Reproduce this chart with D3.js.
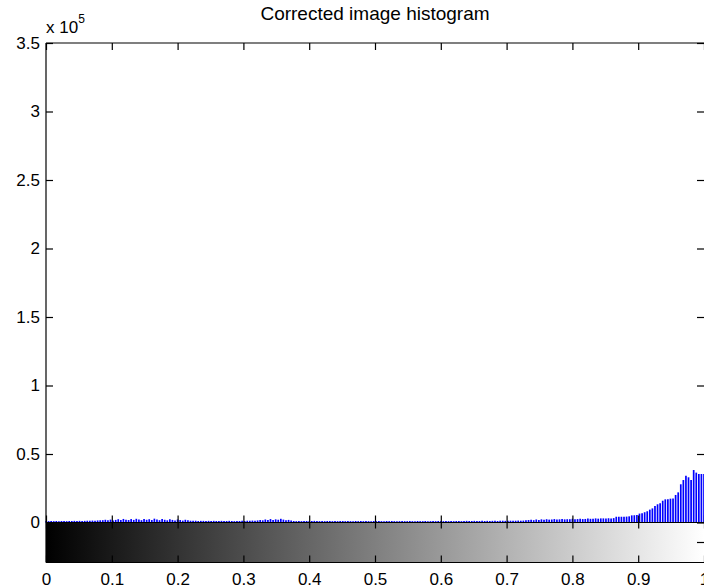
<!DOCTYPE html>
<html><head><meta charset="utf-8">
<script src="https://cdn.jsdelivr.net/npm/d3@7"></script>
<style>
html,body{margin:0;padding:0;background:#fff;overflow:hidden;}
svg{display:block;}
text{font-family:"Liberation Sans",Arial,Helvetica,sans-serif;fill:#000;}
</style></head>
<body>
<script>
// ---- data ----
const title = "Corrected image histogram";
const nBins = 256;
const counts = [
 // bins 0-21
 1000,1000,1100,1000,1100,1000,1100,1100,1000,1100,1100,1200,1100,1200,1100,1200,1300,1200,1400,1300,1500,1600,
 // bins 22-55
 1700,2000,1600,2100,1500,1900,2400,1800,2600,2000,1800,2500,1900,2700,2200,1700,2600,2000,2400,1800,2800,2100,1700,2500,2000,1600,2300,1900,1500,2200,1800,1400,2000,1700,
 // bins 56-82
 1300,1200,1300,1100,1200,1200,1100,1200,1100,1200,1100,1100,1200,1100,1100,1200,1100,1000,1100,1100,1200,1100,1300,1200,1400,1300,1500,
 // bins 83-95
 1800,1600,2200,1900,2500,1800,2300,2000,2700,2100,1700,1900,1500,
 // bins 96-185
 1100,1000,1100,1000,1100,1100,1000,1100,1200,1100,
 1000,1100,1000,1100,1100,1000,1100,1000,1100,1100,
 1000,1100,1000,1000,1100,1000,1100,1000,1100,1000,
 1000,1100,1000,1100,1000,1000,1100,1000,1100,1000,
 1000,1000,1100,1000,1000,1100,1000,1000,1100,1000,
 1000,1100,1000,1000,1100,1000,1100,1000,1000,1100,
 1000,1100,1000,1100,1100,1000,1100,1200,1100,1100,
 1200,1100,1100,1200,1100,1200,1100,1200,1200,1100,
 1200,1300,1200,1200,1300,1200,1300,1400,1300,1400,
 // bins 186-214
 1600,1800,2000,1700,2200,1900,2300,2000,2400,2100,2200,2500,2200,2300,2600,2300,2400,2400,2700,2400,2500,2800,2500,2600,2900,2700,2800,3000,2800,
 // bins 215-239
 3000,3000,3000,3100,3000,3200,4200,4200,4200,4200,4300,4500,5200,5300,5500,6500,6700,7500,8200,9400,10300,12000,13300,14000,15900,
 // bins 240-255
 16900,16900,17400,17600,20100,22000,27900,31000,34200,33000,31000,38300,36400,35400,35400,35400
];
const xTicks = [0,0.1,0.2,0.3,0.4,0.5,0.6,0.7,0.8,0.9,1];
const xTickLabels = ["0","0.1","0.2","0.3","0.4","0.5","0.6","0.7","0.8","0.9","1"];
const yTicks = [0,0.5,1,1.5,2,2.5,3,3.5];          // in units of 10^5
const yTickLabels = ["0","0.5","1","1.5","2","2.5","3","3.5"];
const yExponent = "5";
const yMax = 3.5;
const grayStops = [0,1];   // colorbar intensity range

// ---- layout ----
const W = 704, H = 588;
const L = 46, R = 704, T = 43, B = 522.5, CB = 562.5;
const TICK = 7;

const svg = d3.select("body").append("svg").attr("width", W).attr("height", H);

const x = d3.scaleLinear().domain([0,1]).range([L, R]);
const y = d3.scaleLinear().domain([0, yMax]).range([B, T]);

// colorbar gradient
const defs = svg.append("defs");
const grad = defs.append("linearGradient").attr("id","gray").attr("x1","0%").attr("x2","100%");
grad.selectAll("stop").data(grayStops).join("stop")
  .attr("offset", d => (d*100)+"%")
  .attr("stop-color", d => d3.rgb(255*d,255*d,255*d).formatHex());
svg.append("rect").attr("x", x(0)).attr("y", B).attr("width", x(1)-x(0)).attr("height", CB-B)
  .attr("fill","url(#gray)");

// stems
svg.append("g").selectAll("line").data(counts).join("line")
  .attr("x1", (d,i) => x(i/(nBins-1))).attr("x2", (d,i) => x(i/(nBins-1)))
  .attr("y1", y(0)).attr("y2", d => y(d/1e5))
  .attr("stroke", "#0000ff").attr("stroke-width", 1.7);

// axis frame
const frame = svg.append("g").attr("stroke","#000").attr("stroke-width",1.2).attr("fill","none");
frame.append("line").attr("x1",L).attr("x2",L).attr("y1",T).attr("y2",CB);
frame.append("line").attr("x1",L).attr("x2",W).attr("y1",T).attr("y2",T);
frame.append("line").attr("x1",L).attr("x2",W).attr("y1",B).attr("y2",B);
frame.append("line").attr("x1",L).attr("x2",W).attr("y1",CB).attr("y2",CB);

// y axis (left, ticks inward) and right ticks
const yAxis = d3.axisLeft(y).tickValues(yTicks).tickFormat((d,i)=>yTickLabels[i]).tickSizeInner(-TICK).tickSizeOuter(0).tickPadding(6);
const gy = svg.append("g").attr("transform",`translate(${L},0)`).call(yAxis);
gy.select(".domain").remove();
gy.selectAll(".tick line").attr("stroke","#000").attr("stroke-width",1.2);
gy.selectAll(".tick text").style("font-size","17px").style("font-family","'Liberation Sans',Arial,sans-serif");

const yAxisR = d3.axisRight(y).tickValues(yTicks).tickFormat("").tickSizeInner(-TICK).tickSizeOuter(0);
const gyr = svg.append("g").attr("transform",`translate(${R},0)`).call(yAxisR);
gyr.select(".domain").remove();
gyr.selectAll(".tick line").attr("stroke","#000").attr("stroke-width",1.2);

// top ticks
const xTop = d3.axisTop(x).tickValues(xTicks).tickFormat("").tickSizeInner(-TICK).tickSizeOuter(0);
const gxt = svg.append("g").attr("transform",`translate(0,${T})`).call(xTop);
gxt.select(".domain").remove();
gxt.selectAll(".tick line").attr("stroke","#000").attr("stroke-width",1.2);

// bottom of histogram axis ticks (pointing up)
const xBot = d3.axisBottom(x).tickValues(xTicks).tickFormat("").tickSizeInner(-TICK).tickSizeOuter(0);
const gxb = svg.append("g").attr("transform",`translate(0,${B})`).call(xBot);
gxb.select(".domain").remove();
gxb.selectAll(".tick line").attr("stroke","#000").attr("stroke-width",1.2);

// colorbar ticks: top (pointing down) and bottom (pointing up) with labels
const cbTop = d3.axisTop(x).tickValues(xTicks).tickFormat("").tickSizeInner(-6).tickSizeOuter(0);
const gct = svg.append("g").attr("transform",`translate(0,${B})`).call(cbTop);
gct.select(".domain").remove();
gct.selectAll(".tick line").attr("stroke","#000").attr("stroke-width",1.2);

const cbBot = d3.axisBottom(x).tickValues(xTicks).tickFormat((d,i)=>xTickLabels[i]).tickSizeInner(-TICK).tickSizeOuter(0).tickPadding(10);
const gcb = svg.append("g").attr("transform",`translate(0,${CB})`).call(cbBot);
gcb.select(".domain").remove();
gcb.selectAll(".tick line").attr("stroke","#000").attr("stroke-width",1.2);
gcb.selectAll(".tick text").style("font-size","17px").style("font-family","'Liberation Sans',Arial,sans-serif");

// colorbar right tick
const cbMid = (B+CB)/2;
svg.append("line").attr("x1",R-TICK).attr("x2",R).attr("y1",cbMid).attr("y2",cbMid).attr("stroke","#000").attr("stroke-width",1.2);

// exponent label
const ex = svg.append("text").attr("x", L).attr("y", 33).style("font-size","17px");
ex.append("tspan").text("x 10");
ex.append("tspan").attr("dy",-10).style("font-size","12px").text(yExponent);

// title
svg.append("text").attr("x",(L+R)/2).attr("y",20).attr("text-anchor","middle").style("font-size","19px").text(title);
</script>
</body></html>
